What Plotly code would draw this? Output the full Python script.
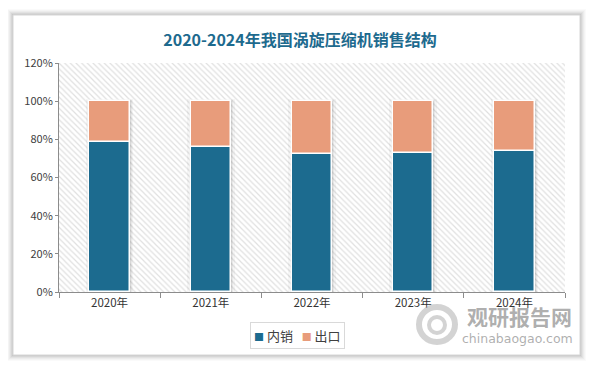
import plotly.graph_objects as go

years = ["2020年", "2021年", "2022年", "2023年", "2024年"]
domestic = [78.8, 76.0, 72.1, 72.6, 74.1]   # 内销 (%)
export = [21.2, 24.0, 27.9, 27.4, 25.9]     # 出口 (%)
y_ticks = [0, 20, 40, 60, 80, 100, 120]
y_labels = ["0%", "20%", "40%", "60%", "80%", "100%", "120%"]
series_names = ["内销", "出口"]

BLUE = "#1c6b8f"
SALMON = "#e89c7b"
FONT = "Noto Sans CJK SC"

OFF = 8  # page body margin
W, H = 594 - OFF, 366 - OFF
# plot area in window pixels
L, R, T, B = 59, 565, 63, 292
pw, ph = R - L, B - T
def px(x):
    return (x - L) / pw
def py(y):
    return (B - y) / ph

fig = go.Figure()

# hatched plot background
fig.add_trace(go.Bar(
    x=[years[2]], y=[y_ticks[-1]], width=[len(years)],
    marker=dict(color="white", line=dict(width=0),
                pattern=dict(shape="\\", fgcolor="#c2c2c2", bgcolor="white",
                             size=4, solidity=0.3)),
    showlegend=False, hoverinfo="skip"))

totals = [d + e for d, e in zip(domestic, export)]
# soft bar shadows
for w, a, extra in [(0.47, 0.035, 1.2), (0.44, 0.05, 0.7), (0.42, 0.07, 0.3)]:
    fig.add_trace(go.Bar(
        x=years, y=[t + extra for t in totals], width=[w] * len(years),
        marker=dict(color=f"rgba(0,0,0,{a})", line=dict(width=0)),
        showlegend=False, hoverinfo="skip"))

fig.add_trace(go.Bar(
    name=series_names[0], x=years, y=domestic, width=[0.4] * len(years),
    marker=dict(color=BLUE, line=dict(color="white", width=1.5)), showlegend=False))
fig.add_trace(go.Bar(
    name=series_names[1], x=years, y=export, base=domestic, width=[0.4] * len(years),
    marker=dict(color=SALMON, line=dict(color="white", width=1.5)), showlegend=False))

shapes = []
# outer frame shadow
fx0, fx1, fy0, fy1 = 13, 580, 15, 355
for i, a in enumerate([0.02, 0.025, 0.03, 0.04, 0.05, 0.06]):
    g = 6 - i
    shapes.append(dict(type="rect", xref="paper", yref="paper", layer="below",
                       x0=px(fx0 - g), x1=px(fx1 + g), y0=py(fy1 + g), y1=py(fy0 - g),
                       line=dict(width=0), fillcolor=f"rgba(0,0,0,{a})"))
shapes.append(dict(type="rect", xref="paper", yref="paper", layer="below",
                   x0=px(fx0), x1=px(fx1), y0=py(fy1), y1=py(fy0),
                   line=dict(color="#d6d6d6", width=1), fillcolor="white"))
# watermark logo (rough swirl)
shapes.append(dict(type="circle", xref="paper", yref="paper",
                   x0=px(419), x1=px(455), y0=py(342), y1=py(307),
                   line=dict(color="rgba(175,175,175,0.55)", width=6)))
shapes.append(dict(type="circle", xref="paper", yref="paper",
                   x0=px(429), x1=px(445), y0=py(333), y1=py(317),
                   line=dict(color="rgba(175,175,175,0.55)", width=4)))

legend_text = (f"<span style='color:{BLUE};font-size:10px'>■</span> {series_names[0]}   "
               f"<span style='color:{SALMON};font-size:10px'>■</span> {series_names[1]}")

annotations = [
    dict(text="<b>观研报告网</b>", xref="paper", yref="paper",
         x=px(519), y=py(316), xanchor="center", yanchor="middle", showarrow=False,
         font=dict(family=FONT, size=21, color="rgba(140,140,140,0.7)")),
    dict(text="chinabaogao.com", xref="paper", yref="paper",
         x=px(517), y=py(338), xanchor="center", yanchor="middle", showarrow=False,
         font=dict(family="DejaVu Sans", size=12.5, color="rgba(140,140,140,0.7)")),
    dict(text=legend_text, xref="paper", yref="paper",
         x=px(297), y=py(335.5), xanchor="center", yanchor="middle", showarrow=False,
         bordercolor="#d9d9d9", borderwidth=1, borderpad=3, bgcolor="white",
         font=dict(family=FONT, size=13, color="#404040")),
]

fig.update_layout(
    width=W, height=H,
    margin=dict(l=L - OFF, r=W - (R - OFF), t=T - OFF, b=H - (B - OFF)),
    paper_bgcolor="white", plot_bgcolor="rgba(0,0,0,0)",
    barmode="overlay", bargap=0, showlegend=False,
    title=dict(text="<b>2020-2024年我国涡旋压缩机销售结构</b>",
               x=px(300), xref="paper", xanchor="center",
               y=1 - (40 - OFF) / H, yref="container", yanchor="middle",
               font=dict(family=FONT, size=16, color="#1d6a8e")),
    xaxis=dict(type="category", categoryorder="array", categoryarray=years,
               range=[-0.5, len(years) - 0.5],
               showline=True, linecolor="#8c8c8c", linewidth=1,
               ticks="outside", tickson="boundaries", ticklen=5, tickcolor="#8c8c8c",
               tickfont=dict(family=FONT, size=11.5, color="#333333"),
               showgrid=False, zeroline=False, fixedrange=True),
    yaxis=dict(range=[0, y_ticks[-1]], tickmode="array", tickvals=y_ticks, ticktext=y_labels,
               showline=True, linecolor="#8c8c8c", linewidth=1,
               ticks="outside", ticklen=3, tickcolor="#8c8c8c",
               tickfont=dict(family=FONT, size=11, color="#404040"),
               showgrid=False, zeroline=False, fixedrange=True),
    shapes=shapes, annotations=annotations,
)

fig.write_html("out.html")
